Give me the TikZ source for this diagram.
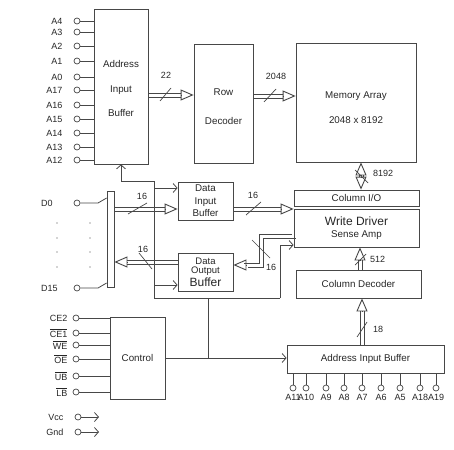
\documentclass[tikz,border=0pt]{standalone}
\usepackage{fontspec}
\setmainfont{Liberation Sans}
\usetikzlibrary{arrows.meta,calc}
\colorlet{ln}{black!72}
\tikzset{
  blk/.style={draw=ln, line width=0.8pt, inner sep=0pt, align=center, text=black!85,
    font=\fontsize{9.8}{12.5}\selectfont},
  blktxt/.style={inner sep=0pt, align=center, text=black!85, font=\fontsize{9.8}{12.5}\selectfont},
  pinc/.style={circle, draw=ln, line width=0.7pt, minimum size=6pt, inner sep=0pt},
  pinlbl/.style={inner sep=0pt, text=black!85, font=\fontsize{9}{9}\selectfont},
  wire/.style={draw=ln, line width=0.8pt},
  sig/.style={wire, -{Straight Barb[length=4pt,width=9pt]}},
  busline/.style={draw=ln, line width=0.9pt},
  bustip/.style={draw=ln, line width=0.9pt, -{Triangle[open,length=13pt,width=11pt]}},
  slash/.style={draw=ln, line width=0.7pt},
  num/.style={inner sep=0pt, text=black!85, font=\fontsize{9}{9}\selectfont},
}
%% bus: two parallel strokes, #2/#3 = half spacing (canvas)
\newcommand\bus[4][]{%
  \draw[busline, #1, transform canvas={xshift=#2, yshift=#3}] #4;
  \draw[busline, #1, transform canvas={xshift=-1*(#2), yshift=-1*(#3)}] #4;}
\newcommand\bushead[2]{\draw[bustip] ($(#2)!13.01pt!(#1)$) -- (#2);}

\begin{document}
\begin{tikzpicture}[x=1pt,y=-1pt]
  \useasboundingbox (0,0) rectangle (454,449);

  %% blocks
  \node[blk, minimum width=54pt, minimum height=155pt,
    label={[blktxt, yshift=-2pt]center:Address\\[12pt]Input\\[12pt]Buffer}] (aib) at (121,86.5) {};
  \node[blk, minimum width=59pt, minimum height=119pt,
    label={[blktxt, yshift=-3pt]center:Row\\[17pt]Decoder}] (rdec) at (223.5,103.5) {};
  \node[blk, minimum width=120pt, minimum height=119pt,
    label={[blktxt, yshift=-5pt]center:Memory Array\\[12pt]2048 x 8192}] (mem) at (356,102.5) {};
  \node[blk, minimum width=125pt, minimum height=16pt] (cio) at (356.5,198) {Column I/O};
  \node[blk, minimum width=125pt, minimum height=38pt] (wd) at (356.5,228) {{\fontsize{12}{13}\selectfont Write Driver}\\Sense Amp};
  \node[blk, minimum width=125pt, minimum height=28pt] (cdec) at (358.5,284) {Column Decoder};
  \node[blk, minimum width=157pt, minimum height=28pt] (aib2) at (365.5,359) {Address Input Buffer};
  \node[blk, minimum width=55pt, minimum height=38pt] (dib) at (205.5,201) {Data\\Input\\Buffer};
  \node[blk, minimum width=55pt, minimum height=38pt, font=\fontsize{9.5}{9}\selectfont] (dob) at (205.5,272) {Data\\Output\\[1pt]{\fontsize{12}{12}\selectfont Buffer}};
  \node[blk, minimum width=55pt, minimum height=82pt] (ctrl) at (137.5,358) {Control};
  \node[blk, minimum width=7pt, minimum height=96pt] (dbar) at (110.5,239) {};

  %% address pins, top
  \foreach \nm/\yy in {A4/21,A3/32,A2/46,A1/61,A0/77,A17/90,A16/105,A15/119,A14/133,A13/147,A12/160}{
    \node[pinc, label={[pinlbl, xshift=-11pt]left:\nm}] (p\nm) at (77,\yy) {};
    \draw[wire] (p\nm) -- (p\nm -| aib.west);
  }

  %% address pins, bottom
  \foreach \nm/\xx in {A11/293,A10/306,A9/326,A8/344,A7/362,A6/381,A5/400,A18/420,A19/436}{
    \node[pinc, label={[pinlbl, yshift=-3pt]below:\nm}] (q\nm) at (\xx,388) {};
    \draw[wire] (q\nm) -- (q\nm |- aib2.south);
  }

  %% control pins
  \foreach \lbl/\yy [count=\i] in {CE2/318,$\overline{\mbox{CE1}}$/333,$\overline{\mbox{WE}}$/345,
      $\overline{\mbox{OE}}$/359,$\overline{\mbox{UB}}$/376,$\overline{\mbox{LB}}$/392}{
    \node[pinc, label={[pinlbl, xshift=-5pt]left:\lbl}] (c\i) at (76,\yy) {};
    \draw[wire] (c\i) -- (c\i -| ctrl.west);
  }

  %% power
  \node[pinc, label={[pinlbl, xshift=-11pt]left:Vcc}] (vcc) at (78,417) {};
  \node[pinc, label={[pinlbl, xshift=-11pt]left:Gnd}] (gnd) at (78,432) {};
  \coordinate (vccend) at (99,417);
  \coordinate (gndend) at (99,432);
  \draw[sig] (vcc) -- (vccend);
  \draw[sig] (gnd) -- (gndend);

  %% data pins
  \node[pinc] (d0) at (77,203) {};
  \node[pinc] (d15) at (77,288) {};
  \node[pinlbl, anchor=west] (ld0) at (41,203) {D0};
  \node[pinlbl, anchor=west] (ld15) at (41,288) {D15};
  \draw[wire] (d0) -- (98,203) -- (dbar.west |- 0,198);
  \draw[wire] (d15) -- (98,288) -- (dbar.west |- 0,283);
  \foreach \yy in {223,238,252,267}{
    \fill[ln] (57,\yy) circle (0.7);
    \fill[ln] (90,\yy) circle (0.7);
  }

  %% control wiring
  \coordinate (jt) at (154,181);
  \coordinate (jb) at (154,298);
  \coordinate (jr) at (280,298);
  \coordinate (jc) at (208,298);
  \draw[sig] (jt) -| (aib.south);
  \draw[wire] (jt) -- (jb) -- (jr);
  \draw[sig] (jr) |- (wd.west |- 0,245);
  \draw[sig] (jt |- 0,188) -- (dib.west |- 0,188);
  \draw[sig] (jb |- 0,285) -- (dob.west |- 0,285);
  \draw[sig] (ctrl.east) -- (ctrl.east -| aib2.west);
  \draw[wire] (jc) -- (jc |- ctrl.east);

  %% buses
  \coordinate (b22a) at (aib.east |- 0,95);
  \coordinate (b22b) at (rdec.west |- 0,95);
  \bus[shorten >=13pt]{0pt}{2pt}{(b22a) -- (b22b)} \bushead{b22a}{b22b}
  \draw[slash] (160,101) -- (171,88);
  \node[num] (n22) at (166,75) {22};

  \coordinate (b2048a) at (rdec.east |- 0,96);
  \coordinate (b2048b) at (mem.west |- 0,96);
  \bus[shorten >=13pt]{0pt}{2pt}{(b2048a) -- (b2048b)} \bushead{b2048a}{b2048b}
  \draw[slash] (264,102) -- (276,89);
  \node[num] (n2048) at (276,76) {2048};

  \coordinate (b8192a) at (mem.south -| 361,0);
  \coordinate (b8192b) at (cio.north -| 361,0);
  \bus[shorten >=13pt, shorten <=13pt]{2pt}{0pt}{(b8192a) -- (b8192b)}
  \bushead{b8192a}{b8192b} \bushead{b8192b}{b8192a}
  \draw[slash] (355,170) -- (368,183);
  \node[num, anchor=west] (n8192) at (373,173) {8192};

  \coordinate (b512a) at (cdec.north -| 360,0);
  \coordinate (b512b) at (wd.south -| 360,0);
  \bus[shorten >=13pt]{2pt}{0pt}{(b512a) -- (b512b)} \bushead{b512a}{b512b}
  \draw[slash] (355,265) -- (366,254);
  \node[num, anchor=west] (n512) at (370,259) {512};

  \coordinate (b18a) at (aib2.north -| 362,0);
  \coordinate (b18b) at (cdec.south -| 362,0);
  \bus[shorten >=13pt]{2pt}{0pt}{(b18a) -- (b18b)} \bushead{b18a}{b18b}
  \draw[slash] (357,337) -- (367,322);
  \node[num, anchor=west] (n18) at (373,329) {18};

  \coordinate (bdia) at (dbar.east |- 0,209);
  \coordinate (bdib) at (dib.west |- 0,209);
  \bus[shorten >=13pt]{0pt}{2pt}{(bdia) -- (bdib)} \bushead{bdia}{bdib}
  \draw[slash] (128,214) -- (147,203);
  \node[num] (n16a) at (142,196) {16};

  \coordinate (bdwa) at (dib.east |- 0,209);
  \coordinate (bdwb) at (wd.west |- 0,209);
  \bus[shorten >=13pt]{0pt}{2pt}{(bdwa) -- (bdwb)} \bushead{bdwa}{bdwb}
  \draw[slash] (246,215) -- (261,202);
  \node[num] (n16b) at (253,195) {16};

  \coordinate (bdoa) at (dob.west |- 0,262);
  \coordinate (bdob) at (dbar.east |- 0,262);
  \bus[shorten >=13pt]{0pt}{2pt}{(bdoa) -- (bdob)} \bushead{bdoa}{bdob}
  \draw[slash] (139,253) -- (152,269);
  \node[num] (n16c) at (143,249) {16};

  \coordinate (bwoa) at (wd.west |- 0,236);
  \coordinate (bwok) at (261,265);
  \coordinate (bwob) at (dob.east |- 0,265);
  \bus[shorten >=13pt]{2pt}{-2pt}{(bwoa) -| (bwok) -- (bwob)} \bushead{bwok}{bwob}
  \draw[slash] (252,240) -- (270,258);
  \node[num] (n16d) at (271,267) {16};

\end{tikzpicture}
\end{document}
